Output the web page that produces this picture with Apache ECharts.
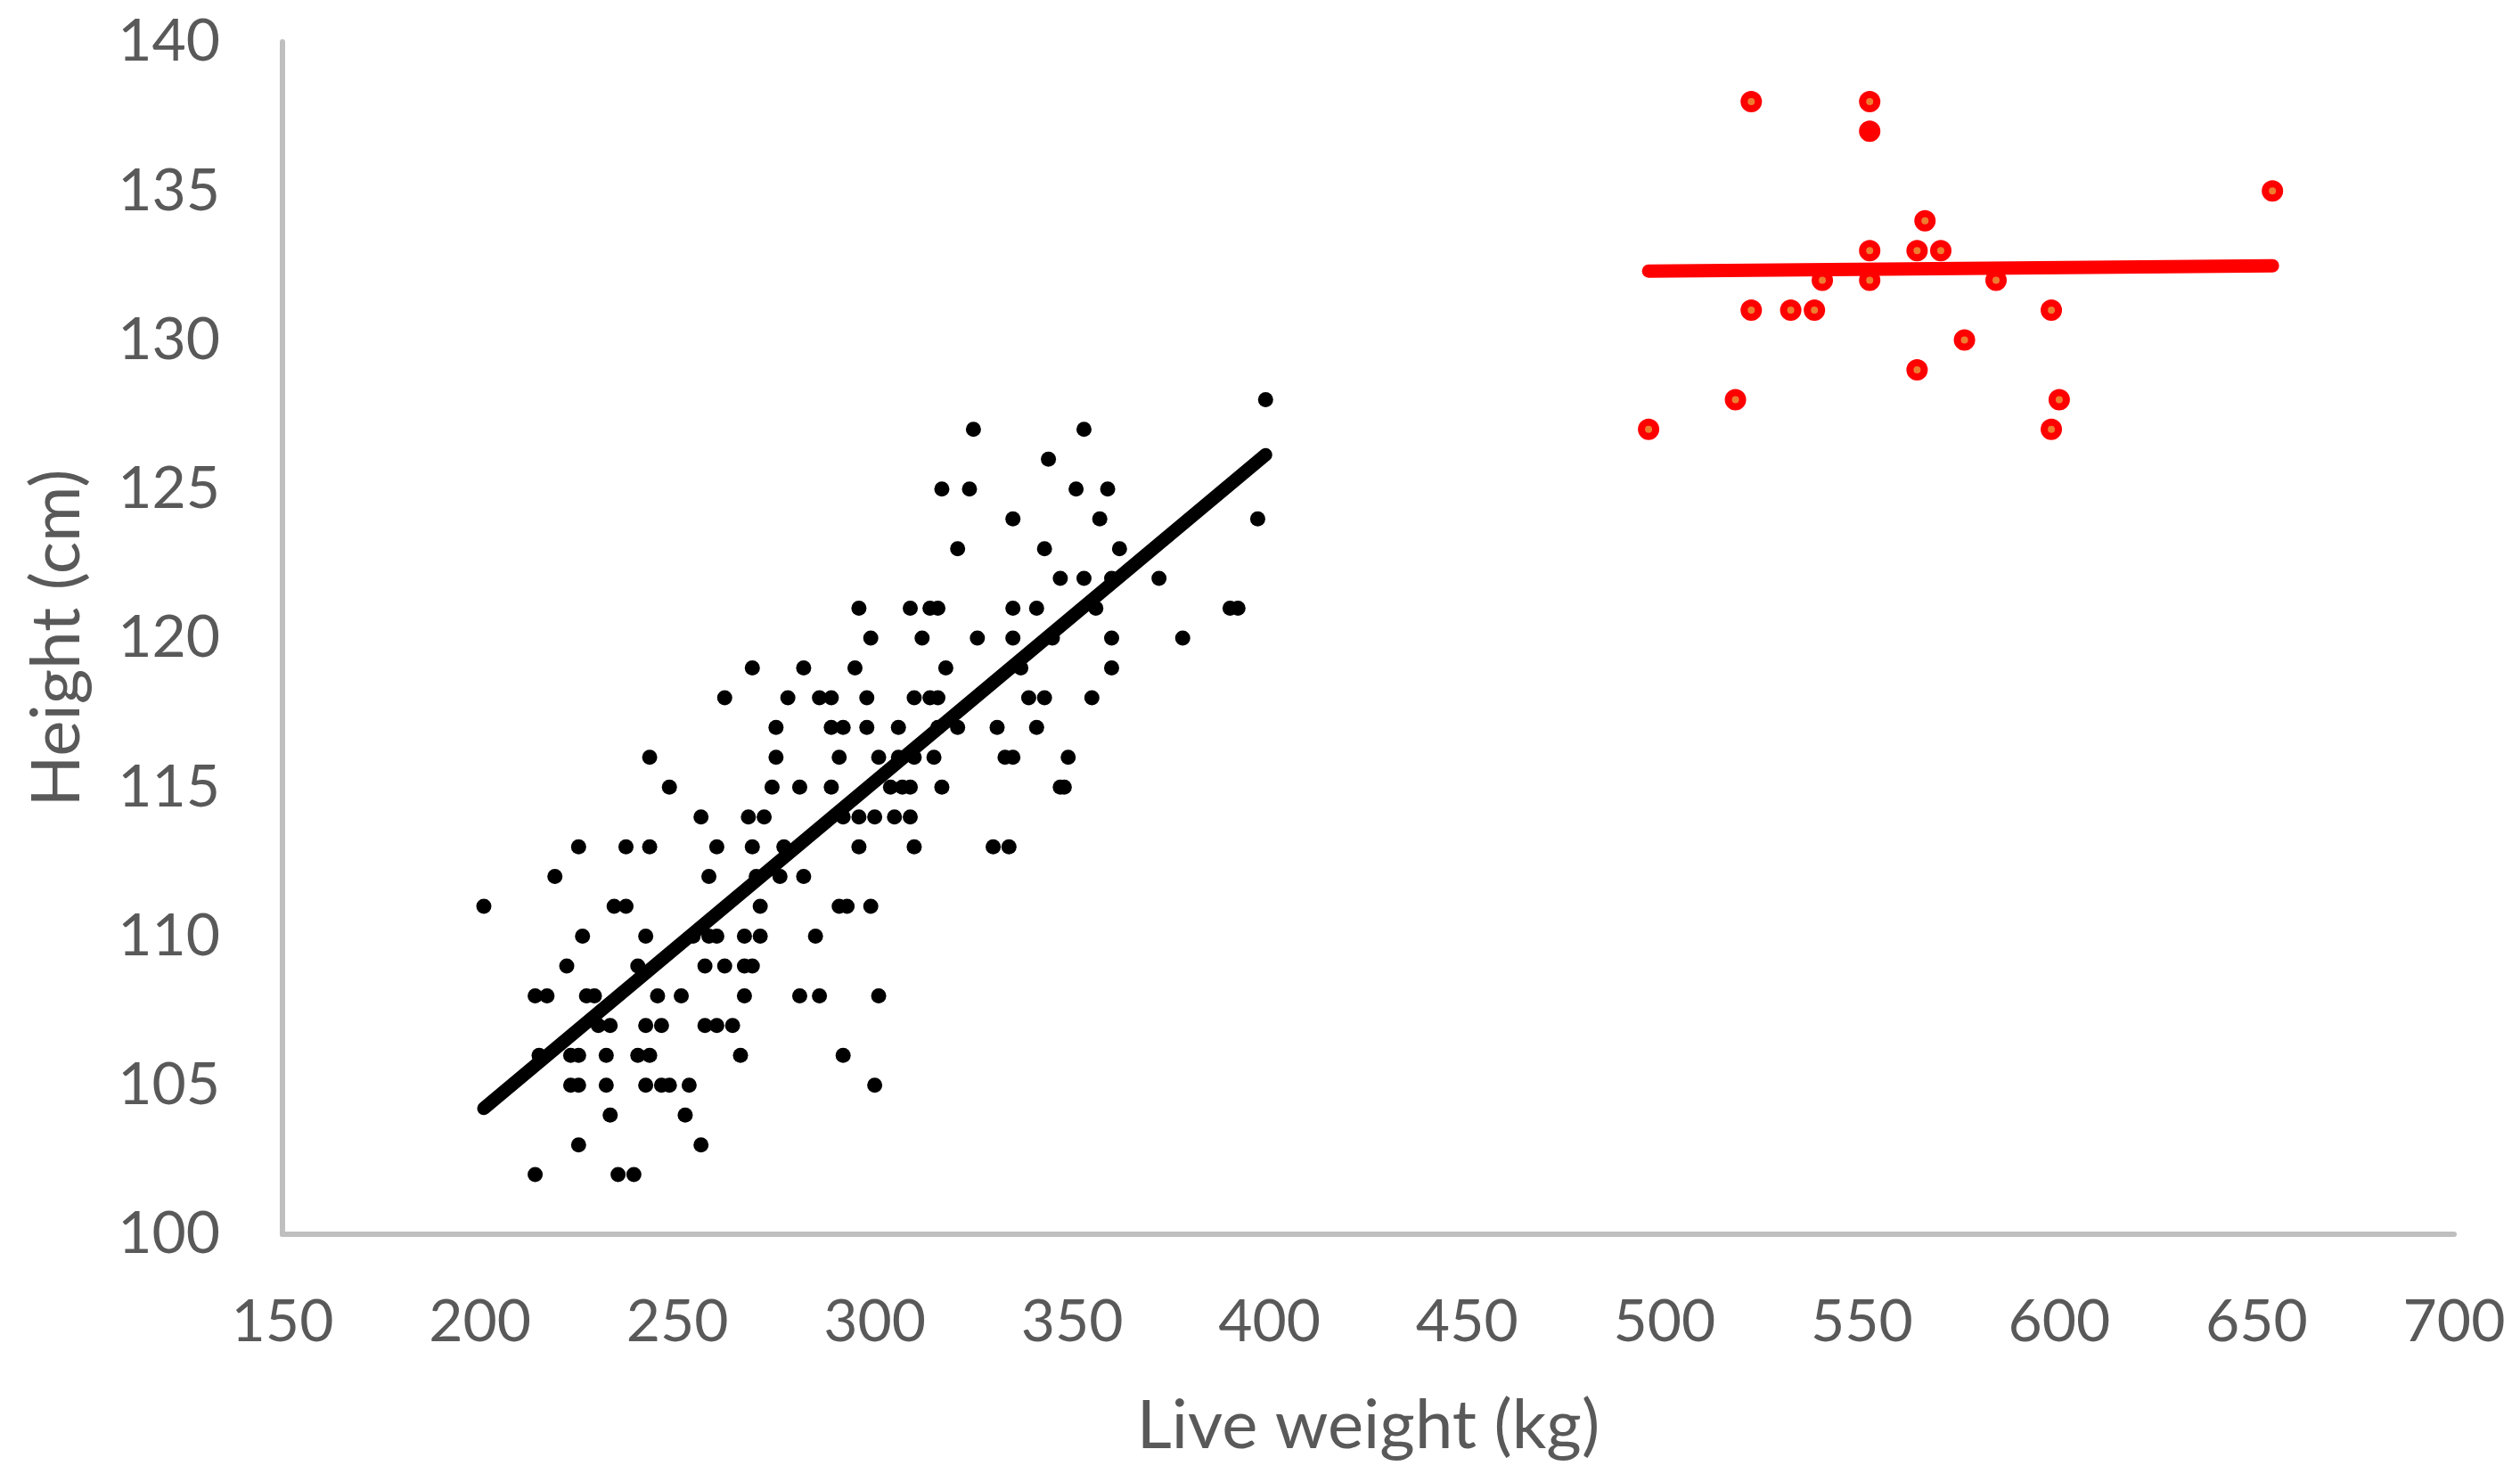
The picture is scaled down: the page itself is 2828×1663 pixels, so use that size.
<!DOCTYPE html>
<html>
<head>
<meta charset="utf-8">
<script src="https://cdn.jsdelivr.net/npm/echarts@6/dist/echarts.min.js"></script>
<style>
html,body{margin:0;padding:0;background:#fff;}
#chart{width:2828px;height:1663px;}
</style>
</head>
<body>
<div id="chart"></div>
<script>
// Axis settings
const xTitle = 'Live weight (kg)';
const yTitle = 'Height (cm)';
const xMin = 150, xMax = 700, xStep = 50;
const yMin = 100, yMax = 140, yStep = 5;

// Group 1 (black): [live weight kg, height cm]
const blackPoints = [
  [399,128],
  [325,127],[353,127],
  [344,126],
  [317,125],[324,125],[351,125],[359,125],
  [335,124],[357,124],[397,124],
  [321,123],[343,123],[362,123],
  [347,122],[353,122],[360,122],[372,122],
  [296,121],[309,121],[314,121],[316,121],[335,121],[341,121],[356,121],[390,121],[392,121],
  [299,120],[312,120],[326,120],[335,120],[345,120],[360,120],[378,120],
  [269,119],[282,119],[295,119],[318,119],[337,119],[360,119],
  [262,118],[278,118],[286,118],[289,118],[298,118],[310,118],[314,118],[316,118],[339,118],[343,118],[355,118],
  [275,117],[289,117],[292,117],[298,117],[306,117],[316,117],[321,117],[331,117],[341,117],
  [243,116],[275,116],[291,116],[301,116],[306,116],[310,116],[315,116],[333,116],[335,116],[349,116],
  [248,115],[274,115],[281,115],[289,115],[304,115],[307,115],[309,115],[317,115],[347,115],[348,115],
  [256,114],[268,114],[272,114],[292,114],[296,114],[300,114],[305,114],[309,114],
  [225,113],[237,113],[243,113],[260,113],[269,113],[277,113],[296,113],[310,113],[330,113],[334,113],
  [219,112],[258,112],[270,112],[276,112],[282,112],
  [201,111],[234,111],[237,111],[271,111],[291,111],[293,111],[299,111],
  [226,110],[242,110],[254,110],[258,110],[260,110],[267,110],[271,110],[285,110],
  [222,109],[240,109],[257,109],[262,109],[267,109],[269,109],
  [214,108],[217,108],[227,108],[229,108],[245,108],[251,108],[267,108],[281,108],[286,108],[301,108],
  [230,107],[233,107],[242,107],[246,107],[257,107],[260,107],[264,107],
  [215,106],[223,106],[225,106],[232,106],[240,106],[243,106],[266,106],[292,106],
  [223,105],[225,105],[232,105],[242,105],[246,105],[248,105],[253,105],[300,105],
  [233,104],[252,104],
  [225,103],[256,103],
  [214,102],[235,102],[239,102]
];

// Group 2 (red): [live weight kg, height cm]
const redPoints = [
  [496,127],[518,128],[522,138],[522,131],[532,131],[538,131],[540,132],
  [552,138],[552,137],[552,133],[552,132],[564,133],[564,129],[566,134],
  [570,133],[576,130],[584,132],[598,131],[598,127],[600,128],[654,135]
];
// the (552,137) marker appears solid red in the original
const redSolidIndex = 8;

// Trend lines: [weight, height] at each end
const blackTrend = [[201,104.22],[399,126.15]];
const redTrend = [[496,132.31],[654,132.49]];

const FONT = 'Lato';
const GREY = '#595959';

const redData = redPoints.map((p, i) => i === redSolidIndex
  ? {value: p, itemStyle: {color: '#FF0000', borderColor: '#FF0000'}}
  : {value: p});

const chart = echarts.init(document.getElementById('chart'), null, {renderer: 'canvas'});
chart.setOption({
  animation: false,
  backgroundColor: '#ffffff',
  grid: {left: 317, right: 74, top: 47, bottom: 278, containLabel: false},
  xAxis: {
    type: 'value', min: xMin, max: xMax, interval: xStep,
    name: xTitle, nameLocation: 'middle', nameGap: 170,
    nameTextStyle: {color: GREY, fontFamily: FONT, fontSize: 76, lineHeight: 90},
    axisLine: {show: true, lineStyle: {color: '#BFBFBF', width: 6}},
    axisTick: {show: false},
    splitLine: {show: false},
    axisLabel: {color: GREY, fontFamily: FONT, fontSize: 66, margin: 60, lineHeight: 78}
  },
  yAxis: {
    type: 'value', min: yMin, max: yMax, interval: yStep,
    name: yTitle, nameLocation: 'middle', nameGap: 208, nameRotate: 90,
    nameTextStyle: {color: GREY, fontFamily: FONT, fontSize: 76, lineHeight: 90},
    axisLine: {show: true, onZero: false, lineStyle: {color: '#BFBFBF', width: 6}},
    axisTick: {show: false},
    splitLine: {show: false},
    axisLabel: {color: GREY, fontFamily: FONT, fontSize: 66, margin: 70}
  },
  series: [
    {
      type: 'scatter', data: blackPoints, symbol: 'circle', symbolSize: 17,
      itemStyle: {color: '#000000', opacity: 1}, z: 2
    },
    {
      type: 'scatter', data: redData, symbol: 'circle', symbolSize: 16,
      itemStyle: {color: '#ED7D31', borderColor: '#FF0000', borderWidth: 8, opacity: 1}, z: 2
    },
    {
      type: 'line', data: blackTrend, symbol: 'none', silent: true,
      lineStyle: {color: '#000000', width: 15, cap: 'round'}, z: 3
    },
    {
      type: 'line', data: redTrend, symbol: 'none', silent: true,
      lineStyle: {color: '#FF0000', width: 15, cap: 'round'}, z: 3
    }
  ]
});
</script>
</body>
</html>
